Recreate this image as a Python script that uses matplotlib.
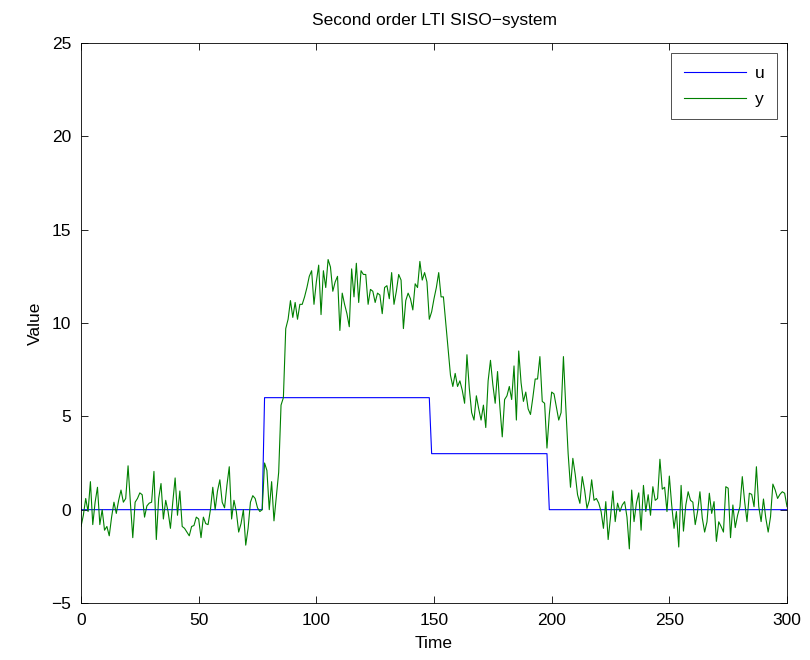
import numpy as np
import matplotlib
matplotlib.use("Agg")
import matplotlib.pyplot as plt

plt.rcParams['font.family'] = ['Liberation Sans', 'DejaVu Sans']

# Input u: step levels and their break times
u_levels = [0, 6, 3, 0]
u_breaks = [0, 78, 149, 199, 301]

# Output y (noisy response), one sample per time step
y_values = [
    -0.9, -0.3, 0.6, -0.1, 1.5, -0.8, 0.4, 1.2, -0.8, 0.0,
    -1.1, -0.9, -1.4, -0.4, 0.4, -0.2, 0.5, 1.05, 0.4, 0.6,
    2.35, 0.35, -1.5, 0.4, 0.6, 0.9, 0.8, -0.4, 0.2, 0.35,
    0.4, 2.05, -1.6, 0.6, 1.4, -0.5, 0.5, -0.1, -1.0, 0.4,
    1.7, -0.3, 1.0, -0.9, -1.0, -1.2, -1.4, -0.9, -0.85, -0.4,
    -0.5, -1.5, -0.4, -0.75, -0.8, 0.0, 1.2, 0.0, 1.0, 1.6,
    0.4, 0.1, 1.3, 2.3, -0.5, 0.5, -0.1, -1.2, -0.75, 0.0,
    -1.9, -1.0, 0.4, 0.75, 0.6, 0.1, -0.1, 0.0, 2.5, 2.1,
    0.0, 1.5, -0.6, 0.7, 2.0, 5.6, 6.0, 9.7, 10.2, 11.2,
    10.3, 11.1, 10.2, 11.0, 11.0, 11.4, 11.9, 12.5, 12.8, 11.0,
    12.2, 13.1, 10.45, 12.8, 11.9, 13.4, 13.0, 11.7, 12.2, 12.5,
    9.6, 11.6, 11.0, 10.5, 9.8, 12.9, 11.4, 13.2, 11.1, 12.8,
    12.6, 12.6, 11.0, 11.8, 11.7, 11.1, 11.6, 11.5, 10.5, 11.9,
    12.0, 11.3, 12.7, 11.0, 11.7, 12.6, 12.3, 9.7, 11.2, 11.6,
    11.3, 10.7, 12.1, 11.9, 13.3, 12.3, 12.7, 12.2, 10.2, 10.6,
    11.3, 11.9, 12.7, 11.4, 11.4, 10.0, 8.6, 7.2, 6.6, 7.3,
    6.6, 6.9, 6.4, 5.7, 8.3, 6.5, 5.2, 4.8, 6.1, 5.4,
    4.8, 5.6, 4.4, 6.9, 8.0, 6.7, 5.7, 7.4, 5.5, 3.9,
    5.9, 6.1, 6.6, 5.9, 7.7, 4.8, 8.5, 6.8, 5.8, 6.3,
    5.4, 5.1, 6.0, 7.0, 7.0, 8.2, 5.8, 5.7, 3.3, 5.1,
    6.3, 6.2, 5.5, 4.8, 5.2, 8.2, 5.5, 3.0, 1.2, 2.75,
    1.9, 0.8, 0.34, 1.77, 1.05, 0.07, 0.5, 1.6, 0.5, 0.6,
    0.35, -0.1, -1.0, 0.43, -1.6, -0.4, 1.0, -0.64, 0.35, -0.1,
    0.25, 0.43, -0.4, -2.1, 1.05, -0.64, 0.34, 0.9, -1.1, 1.3,
    -0.1, 0.8, -0.3, 1.23, 0.5, 0.6, 2.7, 1.1, 1.2, -0.1,
    1.8, 0.25, -1.0, -0.1, -2.0, 1.3, -1.15, 0.25, 0.96, 0.5,
    0.4, -0.8, -0.1, 0.96, -0.45, -1.2, -0.65, 0.88, -0.2, 0.43,
    -1.7, -0.65, -0.9, -1.2, 1.23, 1.15, -1.5, 0.25, -0.96, -0.3,
    0.16, 1.77, 0.43, -0.64, 0.88, 0.82, 0.16, 2.3, 0.16, -0.64,
    0.57, -0.46, -1.2, -0.38, 1.37, 1.05, 0.6, 0.82, 0.96, 0.88,
    0.16,
]

x_ticks = [0, 50, 100, 150, 200, 250, 300]
y_ticks = [-5, 0, 5, 10, 15, 20, 25]

t = np.arange(len(y_values))
counts = np.diff(u_breaks)
u_values = np.repeat(u_levels, counts)[:len(t)]

fig = plt.figure(figsize=(8.1, 6.6), dpi=100, facecolor='white')
ax = fig.add_axes([81/810, 1 - 603/660, 706/810, 560/660])

ax.plot(t, u_values, color=(0, 0, 1), lw=0.8, label='u')
ax.plot(t, y_values, color=(0, 0.5, 0), lw=0.8, label='y')

ax.set_xlim(0, 300)
ax.set_ylim(-5, 25)
ax.set_xticks(x_ticks)
ax.set_yticks(y_ticks)
ax.set_yticklabels(['\u22125' if v == -5 else str(v) for v in y_ticks])
ax.tick_params(direction='in', top=True, right=True, length=5, width=0.6,
               labelsize=12.5, pad=7)
for s in ax.spines.values():
    s.set_linewidth(0.6)

ax.set_xlabel('Time', fontsize=12.5, labelpad=6)
ax.set_ylabel('Value', fontsize=12.5, labelpad=6)
ax.set_title('Second order LTI SISO\u2212system', fontsize=12.5, pad=13)

leg = ax.legend(loc='upper right', fontsize=12.5, frameon=True, fancybox=False,
                edgecolor='black', handlelength=3.6, markerfirst=True,
                borderpad=0.7, labelspacing=0.65, handletextpad=0.5,
                borderaxespad=0.6)
leg.get_frame().set_linewidth(0.6)

fig.savefig('out.png', dpi=100, facecolor='white')
